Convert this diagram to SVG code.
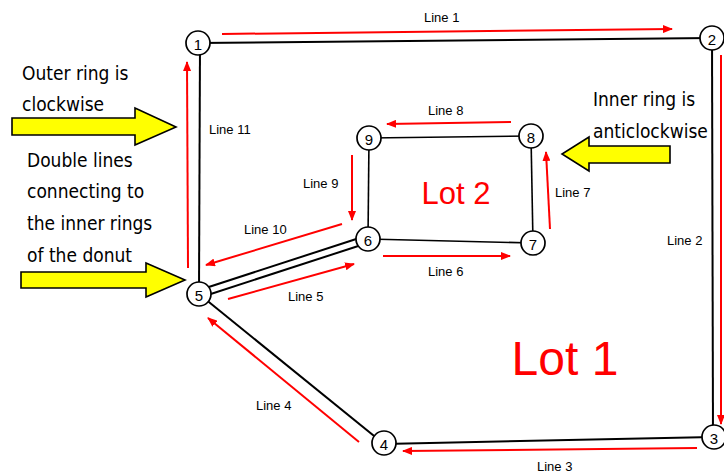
<svg xmlns="http://www.w3.org/2000/svg" width="724" height="474" viewBox="0 0 724 474">
  <style>
    .edge { stroke: #000; stroke-width: 2; fill: none; }
    .inner { stroke: #000; stroke-width: 1.6; fill: none; }
    .flow { stroke: #f00; stroke-width: 2; fill: none; marker-end: url(#head); }
    .node circle { fill: #fff; stroke: #000; stroke-width: 1.7; }
    .node text { font-family: "Liberation Sans", Arial, sans-serif; font-size: 15px; text-anchor: middle; dominant-baseline: central; fill: #000; }
    .lbl { font-family: "Liberation Sans", Arial, sans-serif; font-size: 13px; fill: #000; }
    .note { font-family: "DejaVu Sans Condensed", "Liberation Sans", sans-serif; font-size: 19px; fill: #000; }
    .lot { font-family: "Liberation Sans", Arial, sans-serif; fill: #f00; text-anchor: middle; }
    .pointer { fill: #ffff00; stroke: #000; stroke-width: 1.6; stroke-linejoin: miter; }
  </style>
  <defs>
    <marker id="head" viewBox="0 0 10 8" refX="9" refY="4" markerWidth="10" markerHeight="8" markerUnits="userSpaceOnUse" orient="auto">
      <path d="M0,0 L10,4 L0,8 Z" fill="#f00"/>
    </marker>
  </defs>

  <rect width="724" height="474" fill="#fff"/>

  <!-- road segments -->
  <g id="connectors">
    <line class="edge" x1="198" y1="43" x2="712" y2="38"/>
    <line class="edge" x1="712" y1="38" x2="713" y2="437"/>
    <line class="edge" x1="713" y1="437" x2="384" y2="444"/>
    <line class="edge" x1="384" y1="444" x2="199" y2="294"/>
    <line class="edge" x1="199" y1="294" x2="200" y2="43"/>
    <line class="edge" x1="198" y1="290.5" x2="367" y2="235.5"/>
    <line class="edge" x1="200" y1="297.5" x2="369" y2="242.5"/>
    <line class="inner" x1="368" y1="239" x2="533" y2="243"/>
    <line class="inner" x1="533" y1="243" x2="531" y2="136"/>
    <line class="inner" x1="531" y1="136" x2="369" y2="138"/>
    <line class="inner" x1="369" y1="138" x2="368" y2="239"/>

    <!-- travel directions -->
    <line class="flow" x1="222" y1="34" x2="672" y2="29"/>
    <line class="flow" x1="721" y1="55" x2="721" y2="424"/>
    <line class="flow" x1="697" y1="448" x2="403" y2="451"/>
    <line class="flow" x1="359" y1="442" x2="208" y2="318"/>
    <line class="flow" x1="228" y1="299" x2="354" y2="264"/>
    <line class="flow" x1="383" y1="256" x2="510" y2="256"/>
    <line class="flow" x1="550" y1="229" x2="546" y2="152"/>
    <line class="flow" x1="511" y1="122" x2="387" y2="124"/>
    <line class="flow" x1="352" y1="155" x2="352" y2="220"/>
    <line class="flow" x1="342" y1="224" x2="206" y2="265"/>
    <line class="flow" x1="188" y1="268" x2="187" y2="62"/>
  </g>

  <!-- segment labels -->
  <g id="labels">
    <text class="lbl" x="424" y="22">Line 1</text>
    <text class="lbl" x="667" y="245">Line 2</text>
    <text class="lbl" x="537" y="471">Line 3</text>
    <text class="lbl" x="256" y="410">Line 4</text>
    <text class="lbl" x="288" y="301">Line 5</text>
    <text class="lbl" x="428" y="276">Line 6</text>
    <text class="lbl" x="555" y="197">Line 7</text>
    <text class="lbl" x="428" y="115">Line 8</text>
    <text class="lbl" x="303" y="188">Line 9</text>
    <text class="lbl" x="244" y="234">Line 10</text>
    <text class="lbl" x="209" y="134">Line 11</text>
  </g>

  <!-- lot names -->
  <text class="lot" x="456" y="204" font-size="31">Lot 2</text>
  <text class="lot" x="565" y="375" font-size="48">Lot 1</text>

  <!-- intersections -->
  <g id="n1" class="node"><circle cx="198" cy="43" r="12"/><text x="198" y="44">1</text></g>
  <g id="n2" class="node"><circle cx="712" cy="38" r="12"/><text x="712" y="39">2</text></g>
  <g id="n3" class="node"><circle cx="714" cy="437" r="12"/><text x="714" y="438">3</text></g>
  <g id="n4" class="node"><circle cx="384" cy="443" r="12"/><text x="384" y="444">4</text></g>
  <g id="n5" class="node"><circle cx="199" cy="294" r="12"/><text x="199" y="295">5</text></g>
  <g id="n6" class="node"><circle cx="368" cy="239" r="12"/><text x="368" y="240">6</text></g>
  <g id="n7" class="node"><circle cx="533" cy="243" r="12"/><text x="533" y="244">7</text></g>
  <g id="n8" class="node"><circle cx="531" cy="136" r="12"/><text x="531" y="137">8</text></g>
  <g id="n9" class="node"><circle cx="369" cy="138" r="12"/><text x="369" y="139">9</text></g>

  <!-- notes with pointers -->
  <g id="note-outer">
    <text class="note" x="22" y="80">Outer ring is</text>
    <text class="note" x="22" y="111">clockwise</text>
    <path class="pointer" d="M12,118 H135 V108 L176,127 L135,145 V135 H12 Z"/>
  </g>
  <g id="note-double">
    <text class="note" x="27" y="167">Double lines</text>
    <text class="note" x="27" y="198">connecting to</text>
    <text class="note" x="27" y="230">the inner rings</text>
    <text class="note" x="27" y="262">of the donut</text>
    <path class="pointer" d="M21,272 H146 V263 L185,280 L146,297 V288 H21 Z"/>
  </g>
  <g id="note-inner">
    <text class="note" x="593" y="106">Inner ring is</text>
    <text class="note" x="593" y="138">anticlockwise</text>
    <path class="pointer" d="M670,146 H589 V137 L562,154 L589,171 V163 H670 Z"/>
  </g>
</svg>
